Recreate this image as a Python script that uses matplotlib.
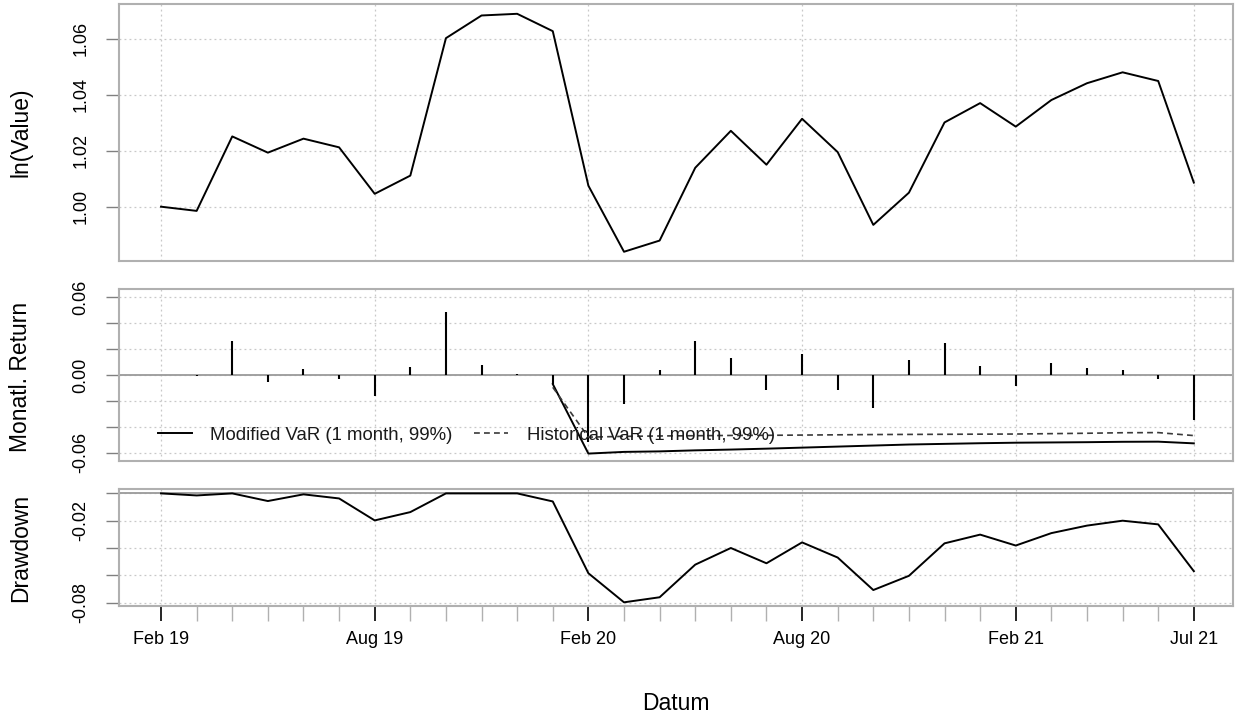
import matplotlib
matplotlib.use("Agg")
import matplotlib.pyplot as plt
import numpy as np

plt.rcParams['font.family'] = ['Liberation Sans', 'DejaVu Sans']

# monthly index, Feb 2019 .. Jul 2021
months = ["Feb 19", "Mar 19", "Apr 19", "May 19", "Jun 19", "Jul 19", "Aug 19", "Sep 19",
          "Oct 19", "Nov 19", "Dec 19", "Jan 20", "Feb 20", "Mar 20", "Apr 20", "May 20",
          "Jun 20", "Jul 20", "Aug 20", "Sep 20", "Oct 20", "Nov 20", "Dec 20", "Jan 21",
          "Feb 21", "Mar 21", "Apr 21", "May 21", "Jun 21", "Jul 21"]
tick_labels = ["Feb 19", "Aug 19", "Feb 20", "Aug 20", "Feb 21", "Jul 21"]

value = [1.0000, 0.9985, 1.0251, 1.0193, 1.0243, 1.0212, 1.0046, 1.0111, 1.0602, 1.0683,
         1.0689, 1.0627, 1.0075, 0.9839, 0.9879, 1.0139, 1.0271, 1.0150, 1.0314, 1.0195,
         0.9935, 1.0050, 1.0301, 1.0370, 1.0286, 1.0381, 1.0441, 1.0480, 1.0449, 1.0086]

returns = [np.nan, -0.0010, 0.0263, -0.0057, 0.0049, -0.0029, -0.0161, 0.0064, 0.0488, 0.0077,
           0.0008, -0.0068, -0.0518, -0.0226, 0.0038, 0.0260, 0.0128, -0.0117, 0.0162, -0.0116,
           -0.0252, 0.0114, 0.0247, 0.0067, -0.0082, 0.0093, 0.0055, 0.0039, -0.0029, -0.0346]

mod_var = [np.nan] * 11 + [-0.0070, -0.0607, -0.0594, -0.0590, -0.0582, -0.0576, -0.0569,
                           -0.0561, -0.0553, -0.0545, -0.0537, -0.0532, -0.0527, -0.0523,
                           -0.0521, -0.0519, -0.0516, -0.0515, -0.0528]
hist_var = [np.nan] * 11 + [-0.0095, -0.0480, -0.0474, -0.0471, -0.0469, -0.0467, -0.0466,
                            -0.0464, -0.0462, -0.0460, -0.0459, -0.0458, -0.0457, -0.0456,
                            -0.0453, -0.0450, -0.0446, -0.0445, -0.0468]

drawdown = [0.0, -0.0015, 0.0, -0.0056, -0.0007, -0.0037, -0.0198, -0.0137, 0.0, 0.0,
            0.0, -0.0059, -0.0585, -0.0798, -0.0761, -0.0522, -0.0400, -0.0512, -0.0359, -0.0470,
            -0.0708, -0.0604, -0.0366, -0.0302, -0.0382, -0.0291, -0.0236, -0.0200, -0.0227, -0.0570]

x = np.arange(len(months))
major_idx = [months.index(m) for m in tick_labels]

BOX = "#b0b0b0"
GRID = "#c8c8c8"
FS_TICK = 13
FS_LAB = 16.5

W, H = 1235, 720
fig = plt.figure(figsize=(W / 100, H / 100), dpi=100)


def panel(top, bottom):
    left, right = 119, 1233
    ax = fig.add_axes([left / W, 1 - bottom / H, (right - left) / W, (bottom - top) / H])
    ax.set_xlim(-1.18, 30.1)
    for s in ax.spines.values():
        s.set_color(BOX)
        s.set_linewidth(1.5)
    for i in major_idx:
        ax.axvline(i, color=GRID, lw=0.9, ls=(0, (1.5, 2.5)), zorder=0)
    ax.tick_params(axis='y', length=9.4, width=1, color="#808080", pad=12, labelsize=FS_TICK)
    ax.tick_params(axis='x', bottom=False, labelbottom=False)
    return ax


def ylabels(ax, ticks, shown, fmt="{:.2f}"):
    ax.set_yticks(ticks)
    ax.set_yticklabels([fmt.format(t) if t in shown else "" for t in ticks],
                       rotation=90, va='center')
    for t in ticks:
        ax.axhline(t, color=GRID, lw=0.9, ls=(0, (1.5, 2.5)), zorder=0)


# panel 1: value
ax1 = panel(4, 261)
ax1.plot(x, value, color="black", lw=1.4)
ax1.set_ylim(0.9806, 1.0724)
ylabels(ax1, [1.00, 1.02, 1.04, 1.06], [1.00, 1.02, 1.04, 1.06])

# panel 2: monthly returns + VaR
ax2 = panel(289.3, 460.7)
ax2.set_ylim(-0.0662, 0.0662)
r2 = [-0.06, -0.04, -0.02, 0.0, 0.02, 0.04, 0.06]
ylabels(ax2, r2, [-0.06, 0.0, 0.06])
ax2.axhline(0, color="#9a9a9a", lw=1.3, zorder=1)
ax2.vlines(x, 0, returns, color="black", lw=1.5, zorder=2)
ax2.plot(x, mod_var, color="black", lw=1.4, zorder=3, label="Modified VaR (1 month, 99%)")
ax2.plot(x, hist_var, color="#3a3a3a", lw=1.2, ls=(0, (3.5, 2.5)), zorder=3,
         label="Historical VaR (1 month, 99%)")
ax2.legend(loc='center left', bbox_to_anchor=(0.035, 0.15), ncol=2, frameon=False,
           fontsize=13.4, handlelength=1.83, handletextpad=0.97, columnspacing=1.18,
           borderpad=0, borderaxespad=0, labelcolor="#1a1a1a")

# panel 3: drawdown
ax3 = panel(489.3, 606)
ax3.set_ylim(-0.0825, 0.003)
r3 = [-0.08, -0.06, -0.04, -0.02, 0.0]
ylabels(ax3, r3, [-0.08, -0.02])
ax3.axhline(0, color="#9a9a9a", lw=1.3, zorder=1)
ax3.plot(x, drawdown, color="black", lw=1.4, zorder=3)

ax3.tick_params(axis='x', bottom=True, labelbottom=True)
ax3.set_xticks(major_idx)
ax3.set_xticklabels(tick_labels)
ax3.set_xticks(x, minor=True)
ax3.tick_params(axis='x', which='major', length=10.5, width=1.2, color="black",
                pad=7.5, labelsize=FS_TICK)
ax3.tick_params(axis='x', which='minor', length=10.5, width=1, color="#b0b0b0")

for ax, yc, lab in [(ax1, 132.5, "ln(Value)"), (ax2, 377, "Monatl. Return"),
                    (ax3, 547.6, "Drawdown")]:
    fig.text(21 / W, 1 - yc / H, lab, rotation=90, ha='center', va='center', fontsize=FS_LAB)

fig.text(676 / W, 1 - 704 / H, "Datum", ha='center', va='center', fontsize=FS_LAB)

fig.savefig("out.png", dpi=100, facecolor="white")
